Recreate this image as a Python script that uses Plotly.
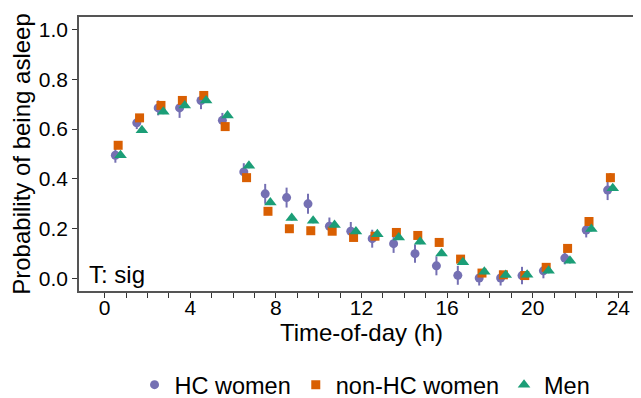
import plotly.graph_objects as go

hours = [0.5, 1.5, 2.5, 3.5, 4.5, 5.5, 6.5, 7.5, 8.5, 9.5, 10.5, 11.5,
         12.5, 13.5, 14.5, 15.5, 16.5, 17.5, 18.5, 19.5, 20.5, 21.5, 22.5, 23.5]

hc_women = [0.495, 0.625, 0.685, 0.685, 0.715, 0.635, 0.428, 0.34, 0.325, 0.30, 0.21, 0.19,
            0.16, 0.14, 0.10, 0.051, 0.013, 0.002, 0.002, 0.012, 0.031, 0.082, 0.195, 0.355]
hc_err = [0.03, 0.025, 0.03, 0.04, 0.035, 0.03, 0.035, 0.04, 0.04, 0.04, 0.035, 0.037,
          0.036, 0.037, 0.037, 0.038, 0.038, 0.03, 0.03, 0.035, 0.03, 0.025, 0.03, 0.04]

nonhc_women = [0.535, 0.645, 0.695, 0.715, 0.735, 0.61, 0.405, 0.27, 0.20, 0.192, 0.19, 0.165,
               0.17, 0.185, 0.173, 0.145, 0.078, 0.022, 0.015, 0.012, 0.045, 0.121, 0.229, 0.405]
nonhc_err = [0.015, 0.015, 0.015, 0.015, 0.015, 0.015, 0.015, 0.015, 0.015, 0.015, 0.015, 0.015,
             0.015, 0.015, 0.015, 0.015, 0.015, 0.012, 0.012, 0.012, 0.012, 0.015, 0.015, 0.018]

men = [0.495, 0.595, 0.67, 0.695, 0.715, 0.655, 0.453, 0.305, 0.243, 0.232, 0.215, 0.189,
       0.178, 0.165, 0.148, 0.101, 0.065, 0.027, 0.014, 0.015, 0.031, 0.071, 0.199, 0.362]
men_err = [0.01] * 24

series = [
    ("HC women", hc_women, hc_err, "#7570B3", "circle", 0.0),
    ("non-HC women", nonhc_women, nonhc_err, "#D95F02", "square", 0.13),
    ("Men", men, men_err, "#1B9E77", "triangle-up", 0.24),
]

FONT = "Liberation Sans"

fig = go.Figure()
for name, vals, err, col, sym, off in series:
    fig.add_trace(go.Scatter(
        x=[h + off for h in hours], y=vals, name=name, mode="markers",
        marker=dict(color=col, symbol=sym, size=11 if sym == "triangle-up" else 9,
                    line=dict(width=0)),
        error_y=dict(type="data", array=err, color=col, thickness=2, width=0),
    ))

fig.add_annotation(text="T: sig", xref="paper", yref="paper", x=0.014, y=0.062,
                   xanchor="left", yanchor="middle", showarrow=False,
                   font=dict(size=24, color="black", family=FONT))

# the page body has an 8px default margin; the layout below compensates for it
fig.update_layout(
    width=641, height=398,
    margin=dict(l=71, r=5, t=9, b=115, autoexpand=False),
    plot_bgcolor="white", paper_bgcolor="white",
    font=dict(family=FONT, size=21, color="black"),
    showlegend=True,
    legend=dict(orientation="h", xref="container", yref="container",
                x=0.557, xanchor="center", y=0.053, yanchor="middle",
                font=dict(size=23.5, family=FONT), itemwidth=30, tracegroupgap=0),
    xaxis=dict(range=[-1.2, 25.2], tickmode="array", tickvals=[0, 4, 8, 12, 16, 20, 24],
               ticks="outside", ticklen=5, tickcolor="#333", tickwidth=1.2,
               minor=dict(tickvals=list(range(0, 26)), ticks="outside", ticklen=5,
                          tickcolor="#333", tickwidth=1.2),
               showline=True, linecolor="#555", linewidth=1.5, mirror=True,
               showgrid=False, zeroline=False, automargin=False,
               ticklabelstandoff=-8,
               title=dict(text="Time-of-day (h)", standoff=5,
                          font=dict(size=24, family=FONT)),
               tickfont=dict(size=21, family=FONT)),
    yaxis=dict(range=[-0.05, 1.05], tickvals=[0, 0.2, 0.4, 0.6, 0.8, 1.0],
               tickformat=".1f",
               ticks="outside", ticklen=5, tickcolor="#333", tickwidth=1.2,
               showline=True, linecolor="#555", linewidth=1.5,
               showgrid=False, zeroline=False, automargin=False,
               title=dict(text="Probability of being asleep", standoff=1,
                          font=dict(size=24, family=FONT)),
               tickfont=dict(size=21, family=FONT)),
)

fig.write_html("out.html")
